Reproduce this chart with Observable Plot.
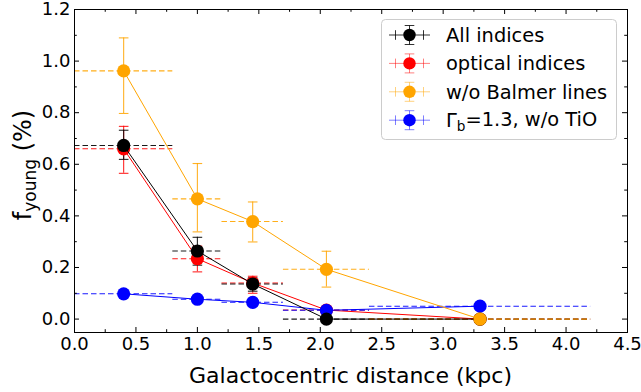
<!DOCTYPE html>
<html><head><meta charset="utf-8">
<script src="https://cdn.jsdelivr.net/npm/d3@7"></script>
<script src="https://cdn.jsdelivr.net/npm/@observablehq/plot@0.6"></script>
<style>
body{margin:0;background:#fff;}
#chart svg{font-family:"DejaVu Sans";overflow:visible;}
</style>
</head><body><div id="chart"></div>
<script>
// ---- data ----
const seriesNames = ["All indices", "optical indices", "w/o Balmer lines", "Γb=1.3, w/o TiO"];
const xCenters = [0.4, 1.0, 1.45, 2.05, 3.3];
const xLow     = [0.0, 0.8, 1.2, 1.7, 2.4];
const xHigh    = [0.8, 1.2, 1.7, 2.4, 4.2];
const allY   = [0.673, 0.264, 0.136, 0.0, 0.0];
const allLo  = [0.619, 0.209, 0.108, 0.0, 0.0];
const allHi  = [0.732, 0.317, 0.160, 0.0, 0.0];
const optY   = [0.660, 0.234, 0.140, 0.035, 0.0];
const optLo  = [0.565, 0.183, 0.100, 0.026, 0.0];
const optHi  = [0.747, 0.283, 0.166, 0.044, 0.0];
const balY   = [0.962, 0.466, 0.378, 0.193, 0.0];
const balLo  = [0.797, 0.338, 0.299, 0.124, 0.0];
const balHi  = [1.090, 0.603, 0.454, 0.263, 0.0];
const gamY   = [0.098, 0.077, 0.065, 0.034, 0.050];
const gamLo  = [0.090, 0.070, 0.050, 0.028, 0.037];
const gamHi  = [0.106, 0.084, 0.080, 0.040, 0.063];
const xTicks = [0, 0.5, 1, 1.5, 2, 2.5, 3, 3.5, 4, 4.5];
const xMinor = [0.25, 0.75, 1.25, 1.75, 2.25, 2.75, 3.25, 3.75, 4.25];
const yTicks = [0, 0.2, 0.4, 0.6, 0.8, 1.0, 1.2];
const yMinor = [0.1, 0.3, 0.5, 0.7, 0.9, 1.1];

// ---- styles ----
const colors = {"All indices": "black", "optical indices": "red", "w/o Balmer lines": "orange", "Γb=1.3, w/o TiO": "blue"};
const values = {
  "All indices": [allY, allLo, allHi],
  "optical indices": [optY, optLo, optHi],
  "w/o Balmer lines": [balY, balLo, balHi],
  "Γb=1.3, w/o TiO": [gamY, gamLo, gamHi]
};
const drawOrder = ["optical indices", "Γb=1.3, w/o TiO", "All indices", "w/o Balmer lines"];

const rowsOf = name => xCenters.map((x, i) => ({
  series: name, x, xlo: xLow[i], xhi: xHigh[i],
  y: values[name][0][i], lo: values[name][1][i], hi: values[name][2][i]
}));

const W = 641, H = 392, mL = 74, mR = 14, mT = 9, mB = 60;
const plotW = W - mL - mR, plotH = H - mT - mB;
const capSymbol = {draw(ctx, size) { const w = Math.sqrt(size / Math.PI); ctx.moveTo(-w, 0); ctx.lineTo(w, 0); }};
const R = 6.6, CAP = 4.8, EOP = 0.85;

const errMarks = [], dataMarks = [];
for (const name of drawOrder) {
  const rows = rowsOf(name), c = colors[name];
  errMarks.push(
    Plot.ruleY(rows, {y: "y", x1: "xlo", x2: "xhi", stroke: c, strokeOpacity: 0.9, strokeWidth: 1.1, strokeDasharray: "5.5,3"}),
    Plot.ruleX(rows, {x: "x", y1: "lo", y2: "hi", stroke: c, strokeOpacity: EOP, strokeWidth: 1.1}),
    Plot.dot(rows, {x: "x", y: "hi", symbol: capSymbol, r: CAP, stroke: c, strokeOpacity: EOP, strokeWidth: 1.1, fill: "none"}),
    Plot.dot(rows, {x: "x", y: "lo", symbol: capSymbol, r: CAP, stroke: c, strokeOpacity: EOP, strokeWidth: 1.1, fill: "none"})
  );
  dataMarks.push(
    Plot.line(rows, {x: "x", y: "y", stroke: c, strokeWidth: 1}),
    Plot.dot(rows, {x: "x", y: "y", r: R, fill: c, stroke: "none"})
  );
}

const chart = Plot.plot({
  width: W, height: H,
  marginLeft: mL, marginRight: mR, marginTop: mT, marginBottom: mB,
  style: {fontFamily: "DejaVu Sans", background: "white", overflow: "visible"},
  x: {domain: [0, 4.5]},
  y: {domain: [-0.052, 1.2]},
  marks: [
    ...errMarks,
    ...dataMarks,
    Plot.frame({stroke: "black", strokeWidth: 1}),
    Plot.tickX(xTicks, {x: d => d, insetTop: plotH - 5, stroke: "black"}),
    Plot.tickX(xTicks, {x: d => d, insetBottom: plotH - 5, stroke: "black"}),
    Plot.tickX(xMinor, {x: d => d, insetTop: plotH - 2.8, stroke: "black"}),
    Plot.tickX(xMinor, {x: d => d, insetBottom: plotH - 2.8, stroke: "black"}),
    Plot.tickY(yTicks, {y: d => d, insetRight: plotW - 5, stroke: "black"}),
    Plot.tickY(yTicks, {y: d => d, insetLeft: plotW - 5, stroke: "black"}),
    Plot.tickY(yMinor, {y: d => d, insetRight: plotW - 2.8, stroke: "black"}),
    Plot.tickY(yMinor, {y: d => d, insetLeft: plotW - 2.8, stroke: "black"}),
    Plot.axisX({ticks: xTicks, tickSize: 0, tickPadding: 5, tickFormat: d3.format(".1f"), fontSize: 18, label: null, fill: "black"}),
    Plot.axisY({ticks: yTicks, tickSize: 0, tickPadding: 4, tickFormat: d3.format(".1f"), fontSize: 18, label: null, fill: "black"})
  ]
});
document.getElementById("chart").appendChild(chart);

// ---- axis titles & legend ----
const svg = d3.select(chart);
svg.append("text").attr("x", mL + plotW / 2).attr("y", 383).attr("text-anchor", "middle")
  .attr("font-size", 22).attr("fill", "black").text("Galactocentric distance (kpc)");
const yl = svg.append("text").attr("transform", "translate(31,165) rotate(-90)").attr("text-anchor", "middle")
  .attr("font-size", 24).attr("fill", "black");
yl.append("tspan").text("f");
yl.append("tspan").attr("font-size", 17).attr("dy", "0.3em").text("young");
yl.append("tspan").attr("dy", "-0.21em").text(" (%)");

const lg = svg.append("g").attr("text-anchor", "start");
lg.append("rect").attr("x", 381.5).attr("y", 19.5).attr("width", 235).attr("height", 120).attr("rx", 4)
  .attr("fill", "white").attr("fill-opacity", 0.8).attr("stroke", "#cccccc");
seriesNames.forEach((name, i) => {
  const cy = 35 + i * 28.4, cx = 409.5, c = colors[name];
  const g = lg.append("g");
  const eo = name === "All indices" ? 0.8 : 0.5;
  g.append("line").attr("x1", 389).attr("x2", 430).attr("y1", cy).attr("y2", cy).attr("stroke", c).attr("stroke-opacity", eo);
  g.append("line").attr("x1", cx).attr("x2", cx).attr("y1", cy - 9.5).attr("y2", cy + 9.5).attr("stroke", c).attr("stroke-opacity", eo);
  for (const yy of [cy - 9.5, cy + 9.5]) g.append("line").attr("x1", cx - 4.8).attr("x2", cx + 4.8).attr("y1", yy).attr("y2", yy).attr("stroke", c).attr("stroke-opacity", eo);
  for (const xx of [cx - 14, cx + 14]) g.append("line").attr("x1", xx).attr("x2", xx).attr("y1", cy - 4.8).attr("y2", cy + 4.8).attr("stroke", c).attr("stroke-opacity", eo);
  g.append("circle").attr("cx", cx).attr("cy", cy).attr("r", 6.2).attr("fill", c);
  const t = g.append("text").attr("x", 446).attr("y", cy + 7).attr("text-anchor", "start").attr("font-size", 19.4).attr("fill", "black");
  if (name.startsWith("Γ")) {
    t.append("tspan").text("Γ");
    t.append("tspan").attr("font-size", 13.6).attr("dy", "0.25em").text("b");
    t.append("tspan").attr("dy", "-0.25em").text("=1.3, w/o TiO");
  } else t.text(name);
});
</script></body></html>
